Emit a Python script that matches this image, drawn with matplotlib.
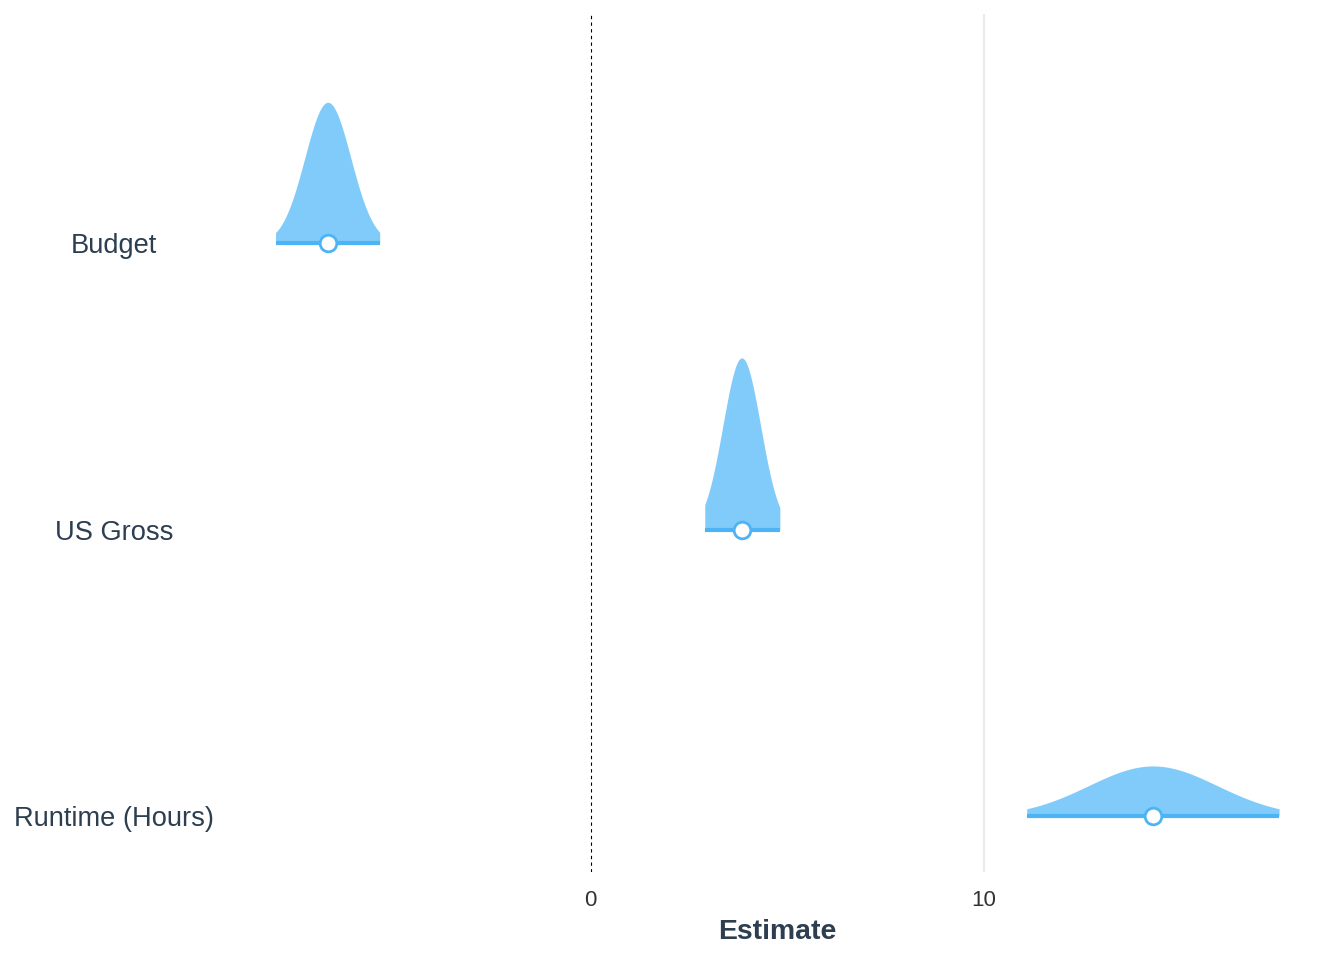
import numpy as np
import matplotlib.pyplot as plt

plt.rcParams['font.family'] = ['Liberation Sans', 'DejaVu Sans']

# posterior summaries
params = ['Budget', 'US Gross', 'Runtime (Hours)']
rows = [3, 2, 1]
means = [-6.69, 3.84, 14.30]
sds = [0.584, 0.479, 1.64]
ci_low = [-8.02, 2.90, 11.09]
ci_high = [-5.37, 4.81, 17.51]

fill_col = '#81CBFA'
line_col = '#4CB4F5'
text_col = '#2C3E50'
dens_scale = 0.72

fig = plt.figure(figsize=(13.44, 9.6), dpi=100)
ax = fig.add_axes([226 / 1344, 88 / 960, 1103 / 1344, 858 / 960])

ax.axvline(10, color='#EBEBEB', lw=1.6, zorder=0)
ax.axvline(0, color='black', lw=0.8, dashes=(3, 3), zorder=1)

for y, m, s, lo, hi in zip(rows, means, sds, ci_low, ci_high):
    x = np.linspace(lo, hi, 300)
    d = np.exp(-0.5 * ((x - m) / s) ** 2) / (s * np.sqrt(2 * np.pi))
    ax.fill_between(x, y, y + d * dens_scale, color=fill_col, lw=0, zorder=2)
    ax.plot([lo, hi], [y, y], color=line_col, lw=3.0, solid_capstyle='butt', zorder=3)
    ax.plot(m, y, 'o', ms=12, mfc='white', mec=line_col, mew=2.0, zorder=4)

ax.set_xlim(-9.28, 18.78)
ax.set_ylim(0.805, 3.80)
ax.set_xticks([0, 10])
ax.set_xticklabels(['0', '10'], fontsize=16, color='#333333')
ax.set_yticks(rows)
ax.set_yticklabels(params, fontsize=19.6, color=text_col, ha='center')
ax.tick_params(axis='x', length=0, pad=13)
ax.tick_params(axis='y', length=0, pad=80.6)
ax.set_xlabel('Estimate', fontsize=20.4, fontweight='bold', color=text_col, labelpad=6)
for sp in ax.spines.values():
    sp.set_visible(False)

fig.savefig('out.png', dpi=100)
